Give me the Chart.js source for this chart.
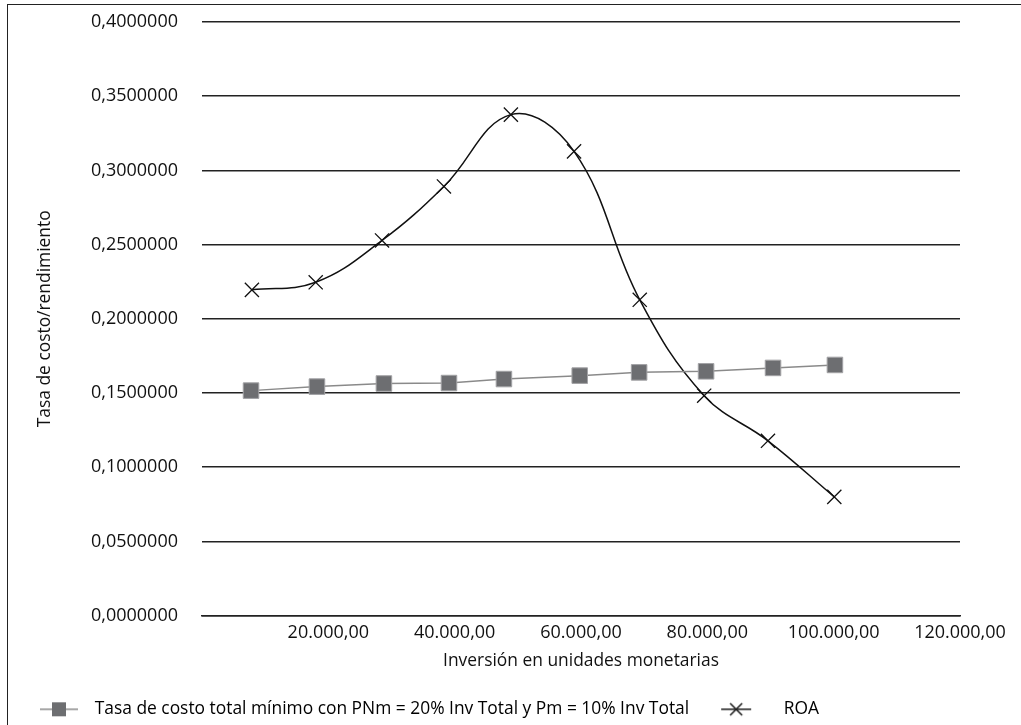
<!DOCTYPE html>
<html>
<head>
<meta charset="utf-8">
<script src="https://cdn.jsdelivr.net/npm/chart.js@4"></script>
<style>
  body { margin: 0; background: #fff; }
  #wrap { position: relative; width: 1021px; height: 725px; overflow: hidden; }
  #frame { position: absolute; left: 7px; top: 4px; width: 1100px; height: 800px;
           border-left: 1.5px solid #222; border-top: 1.5px solid #222; }
</style>
</head>
<body>
<div id="wrap">
  <div id="frame"></div>
  <canvas id="grafico"></canvas>
</div>
<script>
// inversión (x) de cada serie
const xCosto = [7760, 18200, 28800, 39100, 47800, 59800, 69200, 79800, 90400, 100200];
const xRoa   = [7900, 18000, 28500, 38300, 48900, 58900, 69300, 79500, 89600, 100100];
// tasas
const tasaCosto = [0.1516, 0.1543, 0.1564, 0.1567, 0.1594, 0.1617, 0.1639, 0.1646, 0.1669, 0.1689];
const roa       = [0.2195, 0.2246, 0.2528, 0.2892, 0.3376, 0.3128, 0.2128, 0.1482, 0.1178, 0.0800];

const serieCosto = 'Tasa de costo total mínimo con PNm = 20% Inv Total y Pm = 10% Inv Total';
const serieRoa = 'ROA';

const pares = (xs, ys) => xs.map((x, i) => ({x: x, y: ys[i]}));

const miles = v => {
  const ent = Math.round(v).toString().replace(/\B(?=(\d{3})+(?!\d))/g, '.');
  return ent + ',00';
};

// iconos de la leyenda: línea + marcador (mismo ancho de caja para ambos)
const ANCHO_ICONO = 72;
const icono = (tipo, margen, largo) => {
  const c = document.createElement('canvas');
  c.width = ANCHO_ICONO; c.height = 16;
  const g = c.getContext('2d');
  g.lineWidth = 1.5;
  g.strokeStyle = tipo === 'rect' ? '#8a8a8a' : '#1a1a1a';
  g.beginPath(); g.moveTo(margen, 8); g.lineTo(margen + largo, 8); g.stroke();
  const cx = margen + largo / 2;
  if (tipo === 'rect') {
    g.fillStyle = '#6d6e71';
    g.fillRect(cx - 7, 1, 14, 14);
  } else {
    g.beginPath();
    g.moveTo(cx - 6, 2); g.lineTo(cx + 6, 14);
    g.moveTo(cx + 6, 2); g.lineTo(cx - 6, 14);
    g.stroke();
  }
  return c;
};
const iconos = [icono('rect', 26, 38), icono('x', 18, 30)];

const FUENTE = "'Open Sans', 'Noto Sans', sans-serif";

var ctx = document.getElementById('grafico').getContext('2d');
new Chart(ctx, {
  type: 'scatter',
  data: {
    datasets: [{
      label: serieCosto,
      data: pares(xCosto, tasaCosto),
      showLine: true,
      borderColor: '#8a8a8a',
      borderWidth: 1.5,
      backgroundColor: '#6d6e71',
      pointStyle: 'rect',
      pointRadius: 11,
      pointBorderColor: '#a3a3a6',
      pointBorderWidth: 1,
      tension: 0
    }, {
      label: serieRoa,
      data: pares(xRoa, roa),
      showLine: true,
      borderColor: '#111',
      borderWidth: 1.5,
      backgroundColor: '#111',
      pointStyle: 'crossRot',
      pointRadius: 10,
      pointBorderColor: '#111',
      pointBorderWidth: 1.3,
      tension: 0.4
    }]
  },
  options: {
    responsive: true,
    maintainAspectRatio: false,
    animation: false,
    layout: { padding: { left: 0, right: 61, top: 22, bottom: -3 } },
    plugins: {
      legend: {
        position: 'bottom',
        align: 'start',
        labels: {
          usePointStyle: true,
          pointStyleWidth: ANCHO_ICONO,
          padding: 14,
          color: '#111',
          font: { family: FUENTE, size: 17.4 },
          generateLabels: chart => chart.data.datasets.map((d, i) => ({
            text: d.label,
            pointStyle: iconos[i],
            fillStyle: 'transparent',
            strokeStyle: 'transparent',
            lineWidth: 0,
            datasetIndex: i,
            hidden: false
          }))
        }
      },
      tooltip: { enabled: false }
    },
    scales: {
      x: {
        type: 'linear',
        min: 0,
        max: 120000,
        afterFit: s => { s.height = 71; },
        ticks: {
          stepSize: 20000,
          autoSkip: false,
          maxRotation: 0,
          padding: 6,
          color: '#111',
          font: { family: FUENTE, size: 18 },
          callback: v => v === 0 ? '' : miles(v)
        },
        grid: { display: false, drawTicks: false },
        border: { display: true, color: '#222', width: 1.5 },
        title: {
          display: true,
          text: 'Inversión en unidades monetarias',
          color: '#111',
          font: { family: FUENTE, size: 17.4 },
          padding: { top: 0, bottom: 15 }
        }
      },
      y: {
        min: 0,
        max: 0.4,
        afterFit: s => { s.width = 202; },
        ticks: {
          stepSize: 0.05,
          padding: 0,
          color: '#111',
          font: { family: FUENTE, size: 18 },
          callback: v => v.toFixed(7).replace('.', ',')
        },
        grid: { color: '#222', lineWidth: 1.5, drawTicks: true, tickLength: 24, tickColor: 'transparent' },
        border: { display: false },
        title: {
          display: true,
          text: 'Tasa de costo/rendimiento',
          color: '#111',
          font: { family: FUENTE, size: 17.4 },
          padding: { top: 35, bottom: 0 }
        }
      }
    }
  }
});
</script>
</body>
</html>
